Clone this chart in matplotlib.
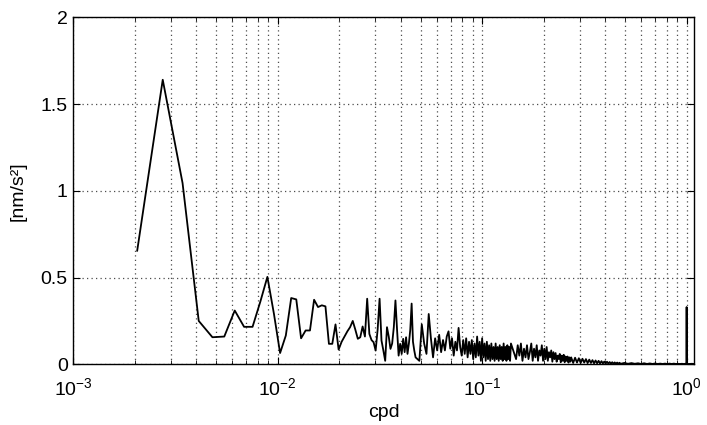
import numpy as np
import matplotlib
matplotlib.use('Agg')
import matplotlib.pyplot as plt
from matplotlib.ticker import LogLocator, FormatStrFormatter

plt.rcParams['font.family'] = ['Liberation Sans', 'DejaVu Sans']
plt.rcParams['mathtext.fontset'] = 'custom'
plt.rcParams['mathtext.rm'] = 'Liberation Sans'
plt.rcParams['mathtext.it'] = 'Liberation Sans:italic'
plt.rcParams['mathtext.bf'] = 'Liberation Sans:bold'

# spectrum on a uniform grid: 4 years of data -> bin spacing 1/1461 cpd
DF = 1.0 / 1461

# low frequencies, every bin (k = 3..69)
bins_a = list(range(3, 70))
amp_a = [0.655, 1.64, 1.045, 0.25, 0.156, 0.16, 0.31, 0.216, 0.216, 0.36,
         0.504, 0.29, 0.065, 0.166, 0.382, 0.374, 0.15, 0.195, 0.195, 0.372,
         0.33, 0.34, 0.334, 0.118, 0.118, 0.23, 0.085, 0.13, 0.16, 0.19,
         0.214, 0.25, 0.2, 0.147, 0.156, 0.218, 0.16, 0.378, 0.175, 0.14,
         0.127, 0.079, 0.2, 0.378, 0.137, 0.08, 0.02, 0.214, 0.16, 0.089,
         0.12, 0.214, 0.368, 0.2, 0.05, 0.118, 0.06, 0.147, 0.07, 0.156,
         0.06, 0.12, 0.2, 0.35, 0.13, 0.079, 0.04]

# every 2nd bin
bins_b = list(range(72, 204, 2))
amp_b = [0.02, 0.23, 0.12, 0.06, 0.29, 0.15, 0.04, 0.15, 0.08, 0.17,
         0.07, 0.14, 0.08, 0.16, 0.19, 0.09, 0.15, 0.05, 0.13, 0.08,
         0.21, 0.10, 0.05, 0.14, 0.06, 0.15, 0.04, 0.13, 0.06, 0.14,
         0.03, 0.12, 0.04, 0.16, 0.05, 0.13, 0.02, 0.15, 0.04, 0.12,
         0.02, 0.13, 0.03, 0.11, 0.02, 0.12, 0.03, 0.10, 0.02, 0.12,
         0.03, 0.10, 0.02, 0.11, 0.03, 0.10, 0.02, 0.12, 0.03, 0.10,
         0.02, 0.11, 0.03, 0.10, 0.02, 0.12]

# every 4th bin
bins_c1 = list(range(214, 399, 4))
amp_c1 = [0.03, 0.11, 0.05, 0.12, 0.02, 0.09, 0.04, 0.11, 0.03, 0.07,
          0.12, 0.02, 0.09, 0.04, 0.11, 0.02, 0.08, 0.05, 0.11, 0.02,
          0.09, 0.03, 0.10, 0.02, 0.07, 0.04, 0.08, 0.015, 0.07, 0.03,
          0.065, 0.015, 0.05, 0.03, 0.06, 0.012, 0.05, 0.02, 0.055, 0.012,
          0.045, 0.02, 0.045, 0.01, 0.04, 0.015, 0.04]

# every 9th bin
bins_c2 = list(range(407, 696, 9))
amp_c2 = [0.008, 0.038, 0.01, 0.035, 0.008, 0.032, 0.01, 0.03, 0.007, 0.027,
          0.008, 0.024, 0.006, 0.022, 0.006, 0.02, 0.005, 0.018, 0.005, 0.016,
          0.004, 0.015, 0.004, 0.013, 0.004, 0.012, 0.003, 0.011, 0.003, 0.01,
          0.003, 0.009, 0.003]

# high frequencies and the line at 1 cpd
bins_d = list(range(725, 1416, 30)) + [1445, 1460, 1461, 1462, 1500, 1550, 1590]
amp_d = [0.008, 0.003, 0.007, 0.003, 0.006, 0.002, 0.006, 0.002, 0.005, 0.002,
         0.005, 0.002, 0.004, 0.002, 0.004, 0.002, 0.004, 0.002, 0.004, 0.002,
         0.003, 0.002, 0.003, 0.002,
         0.003, 0.002, 0.33, 0.002, 0.002, 0.003, 0.002]

bins = np.array(bins_a + bins_b + bins_c1 + bins_c2 + bins_d)
amp = np.array(amp_a + amp_b + amp_c1 + amp_c2 + amp_d)
freq = bins * DF

fig = plt.figure(figsize=(7.07, 4.25), dpi=100)
ax = fig.add_axes([0.1037, 0.1428, 0.8783, 0.8165])

ax.semilogx(freq, amp, color='black', linewidth=1.3)

ax.set_xlim(1e-3, 1.09)
ax.set_ylim(0, 2)
ax.set_yticks([0, 0.5, 1, 1.5, 2])
ax.yaxis.set_major_formatter(FormatStrFormatter('%g'))
ax.xaxis.set_major_locator(LogLocator(base=10, numticks=10))
ax.xaxis.set_minor_locator(LogLocator(base=10, subs=np.arange(2, 10), numticks=20))

grid_style = dict(linestyle=(0, (1, 2.6)), color='0.3', linewidth=0.9)
ax.grid(True, which='major', axis='both', **grid_style)
ax.grid(True, which='minor', axis='x', **grid_style)

ax.tick_params(which='both', direction='in', top=True, right=True, labelsize=14)
ax.tick_params(axis='x', which='major', pad=9, length=5)
ax.tick_params(axis='x', which='minor', length=3)
ax.tick_params(axis='y', length=5, pad=4)

ax.set_xlabel('cpd', fontsize=14, labelpad=4)
ax.set_ylabel('[nm/s²]', fontsize=14, labelpad=10)

for s in ax.spines.values():
    s.set_linewidth(1.0)

fig.savefig('out.png', dpi=100)
